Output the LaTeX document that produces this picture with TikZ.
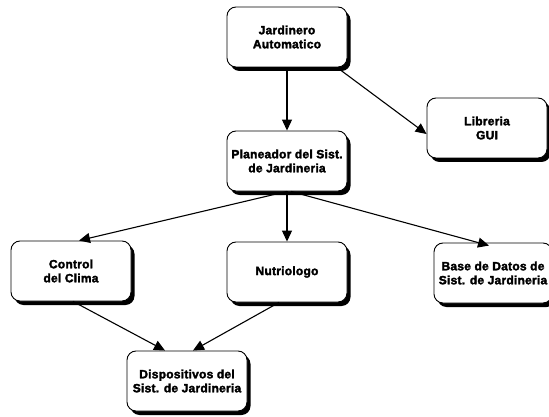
\documentclass[tikz,border=0pt]{standalone}
\usepackage{fontspec}
\setmainfont{Liberation Sans}[BoldFeatures={FakeBold=2.4,LetterSpace=2}]
\usetikzlibrary{arrows.meta,shadows}
\begin{document}
\begin{tikzpicture}[x=1pt,y=-1pt,
  box/.style={draw=black,line width=0.9pt,fill=white,rounded corners=9pt,
    minimum width=120pt,minimum height=60pt,align=center,inner xsep=1pt,
    font=\fontsize{12}{14}\selectfont\bfseries,
    drop shadow={shadow xshift=3.5pt,shadow yshift=-4pt,opacity=1,fill=black}},
  link/.style={line width=1.1pt,-{Triangle[length=11pt,width=10pt]}}]
\useasboundingbox (0,0) rectangle (549,417);
\begin{scope}
\clip (0,0) rectangle (549,417);
\node[box] (ja) at (287,37) {Jardinero\\Automatico};
\node[box] (gui) at (487,128) {Libreria\\GUI};
\node[box] (pl) at (287,161) {Planeador del Sist.\\de Jardineria};
\node[box] (cc) at (71,271) {Control\\del Clima};
\node[box] (nu) at (287,272) {Nutriologo};
\node[box,minimum width=118pt] (bd) at (493,273) {Base de Datos de\\Sist. de Jardineria};
\node[box] (di) at (187,381) {Dispositivos del\\Sist. de Jardineria};
\end{scope}
\draw[link] (ja.south) -- (pl.north);
\draw[link] ([xshift=50pt]ja.south) -- ([yshift=-6pt]gui.west);
\draw[link] (pl.south) -- ([xshift=8pt]cc.north);
\draw[link] (pl.south) -- (nu.north);
\draw[link] ([xshift=4pt]pl.south) -- ([xshift=-4pt,yshift=-3pt]bd.north);
\draw[link] ([xshift=2pt]cc.south) -- ([xshift=-22pt]di.north);
\draw[link] ([xshift=-8pt]nu.south) -- ([xshift=6pt]di.north);
\end{tikzpicture}
\end{document}
